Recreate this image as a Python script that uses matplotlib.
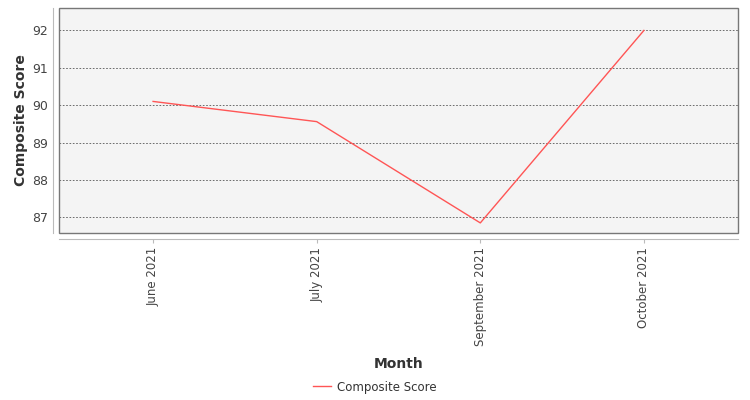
import matplotlib
matplotlib.use('Agg')
import matplotlib.pyplot as plt
from matplotlib.patches import Rectangle

months = ['June 2021', 'July 2021', 'September 2021', 'October 2021']
scores = [90.1, 89.56, 86.85, 92.0]
yticks = [87, 88, 89, 90, 91, 92]

plt.rcParams['font.family'] = 'DejaVu Sans'

fig = plt.figure(figsize=(7.5, 4), dpi=100)
ax = fig.add_axes([59 / 750, 1 - 233 / 400, (738 - 59) / 750, (233 - 8) / 400])
ax.set_facecolor('#f4f4f4')

# spines first: set_position resets the tick objects
for side in ['top', 'right']:
    ax.spines[side].set_visible(False)
for side in ['left', 'bottom']:
    ax.spines[side].set_position(('outward', 4))
    ax.spines[side].set_color('#bbbbbb')

x = list(range(len(months)))
ax.plot(x, scores, color='#ff5555', lw=1, label='Composite Score')

ax.set_xlim(-0.575, len(months) - 1 + 0.575)
ax.set_ylim(86.58, 92.6)
ax.set_xticks(x)
ax.set_xticklabels(months, rotation=90, fontsize=8.5, color='#444444')
ax.set_yticks(yticks)
ax.set_yticklabels([str(t) for t in yticks], fontsize=9, color='#444444')
ax.yaxis.grid(True, linestyle=(0, (2, 2)), color='#555555', lw=0.6)
ax.set_axisbelow(True)

ax.tick_params(axis='y', length=0, pad=4)
ax.tick_params(axis='x', length=3, color='#bbbbbb', pad=3)

ax.add_patch(Rectangle((0, 0), 1, 1, transform=ax.transAxes, fill=False,
                       edgecolor='#777777', lw=1, clip_on=False, zorder=5))

ax.set_ylabel('Composite Score', fontsize=10, fontweight='bold', color='#333333', labelpad=3)
ax.set_xlabel('Month', fontsize=10, fontweight='bold', color='#333333', labelpad=8)

fig.legend(loc='center', bbox_to_anchor=(0.5, 1 - 387 / 400), frameon=False,
           fontsize=8.5, handlelength=1.5, handletextpad=0.5, labelcolor='#333333')

fig.savefig('out.png', dpi=100)
